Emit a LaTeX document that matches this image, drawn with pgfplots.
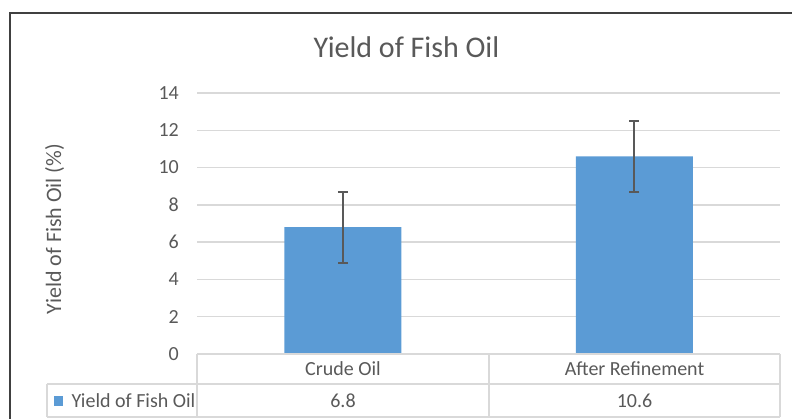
\documentclass[border=0pt]{standalone}
\usepackage{pgfplots}
\pgfplotsset{compat=1.18}
\usepackage{fontspec}
\setmainfont{Carlito}
\definecolor{barblue}{HTML}{5B9BD5}
\definecolor{txt}{HTML}{595959}
\definecolor{gridc}{HTML}{D9D9D9}
\definecolor{errc}{HTML}{595959}
\definecolor{framec}{HTML}{404040}
\begin{document}
\begin{tikzpicture}[x=1pt,y=1pt]
\useasboundingbox (0,0) rectangle (792,419);
\begin{scope}
\clip (0,0) rectangle (792,419);
\draw[framec, line width=2pt] (10,406) rectangle (800,-10);
\end{scope}
\begin{axis}[
  at={(197pt,65pt)}, anchor=south west,
  scale only axis, width=583pt, height=261pt,
  xmin=-0.5, xmax=1.5, ymin=0, ymax=14,
  ytick={0,2,...,14}, xtick=\empty,
  /pgf/number format/assume math mode=true,
  axis line style={draw=none},
  ymajorgrids, grid style={line width=1.3pt, gridc},
  major tick length=0pt,
  yticklabel style={font=\fontsize{20}{24}\selectfont, text=txt, anchor=east, inner sep=0pt, xshift=-18pt},
  ybar, bar width=117pt,
  clip=false,
]
\addplot[fill=barblue, draw=none, error bars/.cd, y dir=both, y explicit,
  error bar style={line width=1.8pt, errc},
  error mark options={rotate=90, mark size=5pt, line width=1.8pt, errc}]
 coordinates {(0,6.8) +- (0,1.9) (1,10.6) +- (0,1.9)};
\end{axis}
\draw[gridc, line width=1.3pt] (197,65) -- (780,65)
  (197,65) -- (197,2) (489,65) -- (489,2) (780,65) -- (780,2)
  (47,35) -- (780,35) (47,2) -- (780,2) (47,35) -- (47,2);
\begin{scope}[every node/.style={text=txt, font=\fontsize{20}{24}\selectfont}]
\node at (343,50) {Crude Oil};
\node at (634.5,50) {After Refinement};
\node at (343,18.5) {6.8};
\node at (634.5,18.5) {10.6};
\node[anchor=west] at (68,18.5) {Yield of Fish Oil};
\end{scope}
\fill[barblue] (54,13) rectangle (63,23);
\node[text=txt, font=\fontsize{30}{36}\selectfont, anchor=base] at (406.5,361) {Yield of Fish Oil};
\node[text=txt, font=\fontsize{22}{26}\selectfont, rotate=90, anchor=base] at (61,190) {Yield of Fish Oil (\%)};
\end{tikzpicture}
\end{document}
